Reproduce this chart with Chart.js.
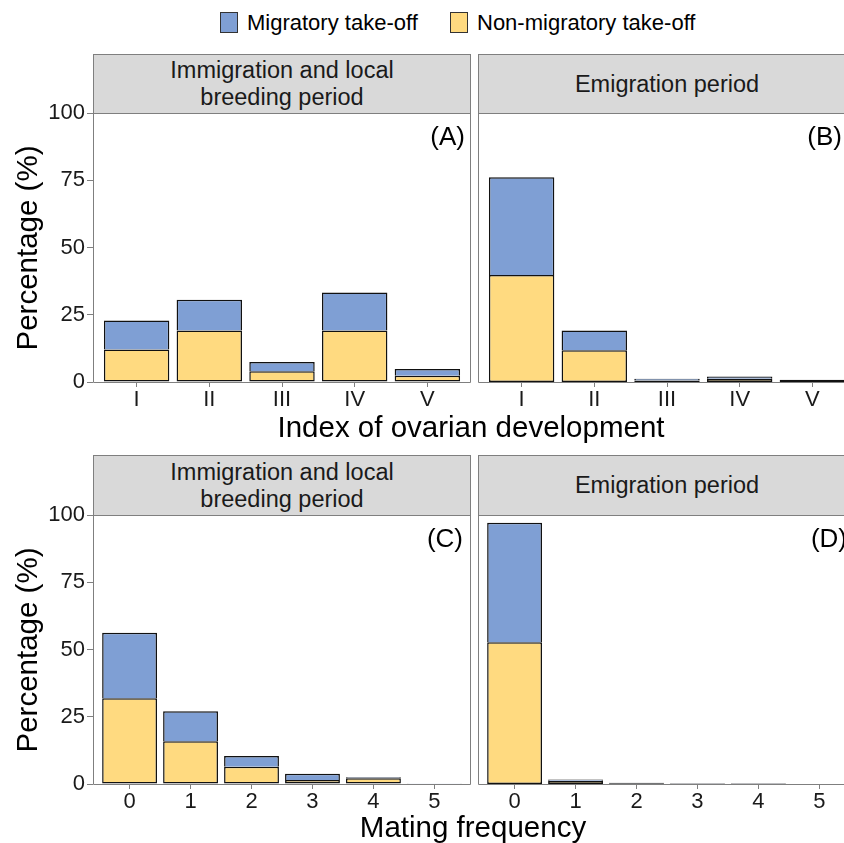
<!DOCTYPE html>
<html>
<head>
<meta charset="utf-8">
<script src="https://cdn.jsdelivr.net/npm/chart.js@4.4.1/dist/chart.umd.min.js"></script>
<style>
  body { margin: 0; background: #fff; font-family: "Liberation Sans", Arial, sans-serif; color: #1a1a1a; }
  #fig { position: relative; width: 844px; height: 843px; overflow: hidden; background: #fff; }
  .cv { position: absolute; }
  .strip { position: absolute; background: #d9d9d9; border: 1px solid #7f7f7f; box-sizing: border-box;
           display: flex; align-items: center; justify-content: center; text-align: center;
           font-size: 23.5px; line-height: 27px; color: #1a1a1a; }
  .ttl { position: absolute; font-size: 29.5px; line-height: 29.5px; white-space: nowrap; color: #000; }
  .ytl { transform: translate(-50%, -50%) rotate(-90deg); }
  .xtl { transform: translateX(-50%); }
  .key { position: absolute; width: 18px; height: 21px; box-sizing: border-box; border: 1px solid #333; }
  .keytxt { position: absolute; font-size: 22px; line-height: 22px; white-space: nowrap; color: #000; }
</style>
</head>
<body>
<div id="fig">
  <div class="key" id="key1" style="left:220px; top:12px;"></div>
  <div class="keytxt" id="keytxt1" style="left:247px; top:12px;"></div>
  <div class="key" id="key2" style="left:450px; top:12px;"></div>
  <div class="keytxt" id="keytxt2" style="left:477px; top:12px;"></div>

  <div class="strip" id="stripA" style="left:93px; top:54px; width:378px; height:60px;"></div>
  <div class="strip" id="stripB" style="left:478px; top:54px; width:378px; height:60px;"></div>
  <div class="strip" id="stripC" style="left:93px; top:455px; width:378px; height:61px;"></div>
  <div class="strip" id="stripD" style="left:478px; top:455px; width:378px; height:61px;"></div>

  <div class="cv" style="left:0; top:98px; width:476px; height:322px;"><canvas id="chartA"></canvas></div>
  <div class="cv" style="left:476px; top:98px; width:385px; height:322px;"><canvas id="chartB"></canvas></div>
  <div class="cv" style="left:0; top:500px; width:476px; height:322px;"><canvas id="chartC"></canvas></div>
  <div class="cv" style="left:476px; top:500px; width:385px; height:322px;"><canvas id="chartD"></canvas></div>

  <div class="ttl ytl" style="left:27px; top:248px;">Percentage (%)</div>
  <div class="ttl ytl" style="left:27px; top:650px;">Percentage (%)</div>
  <div class="ttl xtl" style="left:471px; top:412px;">Index of ovarian development</div>
  <div class="ttl xtl" style="left:473px; top:812px;">Mating frequency</div>
</div>

<script>
// categorias de cada fila
const ovaryLabels = ['I', 'II', 'III', 'IV', 'V'];
const matingLabels = ['0', '1', '2', '3', '4', '5'];
const yTicks = [0, 25, 50, 75, 100];
const seriesNames = ['Migratory take-off', 'Non-migratory take-off'];

// porcentajes (el amarillo va abajo, el azul encima)
const ovaryBreedNonMig = [12.1, 19.1, 4.0, 19.1, 2.3];
const ovaryBreedMig    = [10.8, 11.5, 3.4, 14.2, 2.5];
const ovaryEmigNonMig  = [39.8, 11.8, 0.6, 1.2, 0.7];
const ovaryEmigMig     = [36.3, 7.3, 0.6, 0.8, 0.1];
const matingBreedNonMig = [31.9, 15.9, 6.4, 1.5, 2.1, 0.2];
const matingBreedMig    = [24.3, 11.1, 4.0, 2.3, 0.4, 0.1];
const matingEmigNonMig  = [52.7, 1.2, 0.3, 0.2, 0.2, 0];
const matingEmigMig     = [44.4, 0.5, 0.2, 0.1, 0.1, 0];

const stripBreed = ['Immigration and local', 'breeding period'];
const stripEmig = ['Emigration period'];

const blue = '#7f9fd4';
const yellow = '#ffda80';
const edge = '#111111';
const axisGrey = '#7f7f7f';
const font = '"Liberation Sans", Arial, sans-serif';

// leyenda y tiras
document.getElementById('key1').style.background = blue;
document.getElementById('key2').style.background = yellow;
document.getElementById('keytxt1').textContent = seriesNames[0];
document.getElementById('keytxt2').textContent = seriesNames[1];
document.getElementById('stripA').innerHTML = stripBreed.join('<br>');
document.getElementById('stripB').innerHTML = stripEmig.join('<br>');
document.getElementById('stripC').innerHTML = stripBreed.join('<br>');
document.getElementById('stripD').innerHTML = stripEmig.join('<br>');

// marco gris del panel + etiqueta (A), (B)...
const panelFrame = {
  id: 'panelFrame',
  afterDraw(chart, args, o) {
    const { ctx, chartArea: a } = chart;
    ctx.save();
    ctx.strokeStyle = axisGrey;
    ctx.lineWidth = 1;
    ctx.beginPath();
    ctx.moveTo(a.left + 0.5, a.top + 0.5);
    ctx.lineTo(a.right - 0.5, a.top + 0.5);
    ctx.lineTo(a.right - 0.5, a.bottom + 0.5);
    ctx.lineTo(a.left + 0.5, a.bottom + 0.5);
    ctx.closePath();
    ctx.stroke();
    ctx.font = '26px ' + font;
    ctx.fillStyle = '#000';
    ctx.textAlign = 'right';
    ctx.textBaseline = 'middle';
    ctx.fillText(o.tag, a.right - o.inset, a.top + 25);
    ctx.restore();
  }
};

function makePanel(id, labels, nonMig, mig, tag, inset, leftAxis) {
  const pts = arr => arr.map((v, i) => ({ x: i + 1, y: v }));
  return new Chart(document.getElementById(id), {
    type: 'bar',
    data: {
      datasets: [
        { label: seriesNames[1], data: pts(nonMig), backgroundColor: yellow, borderColor: edge,
          borderWidth: 1.5, borderSkipped: false, categoryPercentage: 1, barPercentage: 0.9 },
        { label: seriesNames[0], data: pts(mig), backgroundColor: blue, borderColor: edge,
          borderWidth: 1.5, borderSkipped: 'start', categoryPercentage: 1, barPercentage: 0.9 }
      ]
    },
    options: {
      responsive: true,
      maintainAspectRatio: false,
      animation: false,
      layout: { padding: { top: 15, right: 5, left: leftAxis ? 0 : 2, bottom: 0 } },
      plugins: {
        legend: { display: false },
        tooltip: { enabled: false },
        panelFrame: { tag: tag, inset: inset }
      },
      scales: {
        x: {
          type: 'linear',
          offset: false,
          min: 0.4,
          max: labels.length + 0.6,
          stacked: true,
          grid: { drawOnChartArea: false, drawTicks: true, tickLength: 5, color: axisGrey, offset: false },
          border: { display: false },
          ticks: {
            autoSkip: false, maxRotation: 0, padding: 0,
            color: '#1a1a1a', font: { family: font, size: 22 },
            callback: v => labels[Math.round(v) - 1]
          },
          afterBuildTicks: s => { s.ticks = labels.map((l, i) => ({ value: i + 1 })); },
          afterFit: s => { s.height = 38; s.paddingLeft = 0; s.paddingRight = 0; }
        },
        y: {
          display: leftAxis,
          min: 0,
          max: 100,
          stacked: true,
          grid: { drawOnChartArea: false, drawTicks: true, tickLength: 6, color: axisGrey },
          border: { display: false },
          ticks: { padding: 2, color: '#1a1a1a', font: { family: font, size: 22 } },
          afterBuildTicks: s => { s.ticks = yTicks.map(v => ({ value: v })); },
          afterFit: s => {
            s.width = leftAxis ? 93 : 0;
            s.paddingTop = 0;
            s.paddingBottom = 0;
          }
        }
      }
    },
    plugins: [panelFrame]
  });
}

makePanel('chartA', ovaryLabels, ovaryBreedNonMig, ovaryBreedMig, '(A)', 6, true);
makePanel('chartB', ovaryLabels, ovaryEmigNonMig, ovaryEmigMig, '(B)', 14, false);
makePanel('chartC', matingLabels, matingBreedNonMig, matingBreedMig, '(C)', 8, true);
makePanel('chartD', matingLabels, matingEmigNonMig, matingEmigMig, '(D)', 9, false);
</script>
</body>
</html>
